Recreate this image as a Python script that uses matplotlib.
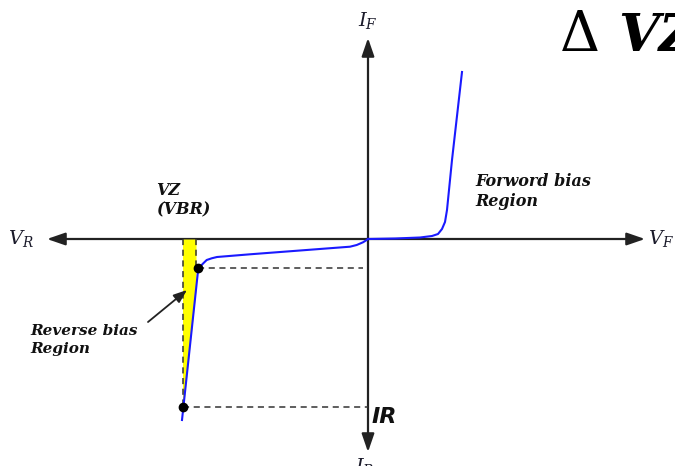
import numpy as np
import matplotlib.pyplot as plt
from matplotlib.patches import FancyArrowPatch

plt.rcParams['mathtext.fontset'] = 'dejavuserif'

# schematic diode characteristic (arbitrary units, origin at 0,0)
fwd_v = [0.0, 2.7, 5.2, 6.4, 7.0, 7.4, 7.7, 7.9, 8.4, 9.4]
fwd_i = [0.0, 0.05, 0.15, 0.3, 0.5, 1.0, 1.7, 2.9, 7.9, 16.7]

rev_v = [0.0, -0.13, -0.5, -1.13, -1.8, -6.8, -11.8, -15.1, -15.63,
         -16.13, -16.47, -16.8, -16.97, -18.6]
rev_i = [0.0, -0.1, -0.33, -0.6, -0.77, -1.15, -1.53, -1.8, -1.93,
         -2.1, -2.43, -2.77, -2.93, -18.1]

# zener knee and max-current points
knee_v, knee_i = -16.97, -2.93
max_v, max_i = -18.55, -16.8
vz_right = -17.2

fig = plt.figure(figsize=(6.75, 4.66), dpi=100)
ax = fig.add_axes([0, 0, 1, 1])
ax.set_xlim(-36.8, 30.7)
ax.set_ylim(-22.7, 23.9)
ax.axis('off')

axis_col = '#222222'


def axis_arrow(p0, p1):
    ax.add_patch(FancyArrowPatch(p0, p1,
                                 arrowstyle='<|-|>,head_length=0.55,head_width=0.19',
                                 mutation_scale=20, lw=1.6, color=axis_col,
                                 shrinkA=0, shrinkB=0))


axis_arrow((-32.1, 0), (27.7, 0))
axis_arrow((0, 20.1), (0, -21.3))

# yellow breakdown band
band_i = np.linspace(0, -17.3, 200)
curve_v = np.interp(band_i, rev_i[::-1], rev_v[::-1])
right_edge = np.minimum(vz_right, curve_v)
ax.fill_betweenx(band_i, max_v, right_edge, where=right_edge > max_v,
                 color='#ffff00', lw=0, zorder=1)

# guide lines
dash = dict(color='#333333', lw=1.1, ls=(0, (4, 3)), zorder=2)
ax.plot([max_v, max_v], [0, max_i], **dash)
ax.plot([vz_right, vz_right], [0, knee_i], **dash)
ax.plot([knee_v, -0.5], [knee_i, knee_i], **dash)
ax.plot([max_v, 0], [max_i, max_i], **dash)

ax.plot(fwd_v, fwd_i, color='#1a1aff', lw=1.5, zorder=3)
ax.plot(rev_v, rev_i, color='#1a1aff', lw=1.5, zorder=3)
ax.plot([knee_v, max_v], [knee_i, max_i], 'o', color='black', ms=6, zorder=4)

ax.add_patch(FancyArrowPatch((-22.0, -8.3), (-18.1, -5.1),
                             arrowstyle='-|>,head_length=0.45,head_width=0.17',
                             mutation_scale=18, lw=1.3, color='#222222',
                             shrinkA=0, shrinkB=0, zorder=5))

serif = dict(family='DejaVu Serif', style='italic', weight='bold',
             color='#111111')
ax.text(-21.2, 4.4, 'VZ', fontsize=11.5, va='baseline', **serif)
ax.text(-21.2, 2.5, '(VBR)', fontsize=11.5, va='baseline', **serif)
ax.text(10.7, 5.25, 'Forword bias', fontsize=11.5, va='baseline', **serif)
ax.text(10.7, 3.25, 'Region', fontsize=11.5, va='baseline', **serif)
ax.text(-33.8, -9.6, 'Reverse bias', fontsize=11, va='baseline', **serif)
ax.text(-33.8, -11.4, 'Region', fontsize=11, va='baseline', **serif)

ax.text(0.35, -18.4, 'IR', family='DejaVu Sans', style='italic',
        weight='bold', fontsize=16, va='baseline', color='#111111')

lab = dict(fontsize=14, color='#1a1a2a')
ax.text(-36.0, 0.0, r'$V_R$', va='center', ha='left', **lab)
ax.text(28.0, 0.0, r'$V_F$', va='center', ha='left', **lab)
ax.text(-1.0, 21.3, r'$I_F$', va='baseline', ha='left', **lab)
ax.text(-1.3, -21.7, r'$I_R$', va='top', ha='left', **lab)

ax.text(19.2, 18.8, '\u0394', family='DejaVu Serif', fontsize=40,
        va='baseline', color='black')
ax.text(25.0, 18.8, 'VZ', family='DejaVu Serif', style='italic',
        weight='bold', fontsize=38, va='baseline', color='black')

fig.savefig('out.png', dpi=100)
